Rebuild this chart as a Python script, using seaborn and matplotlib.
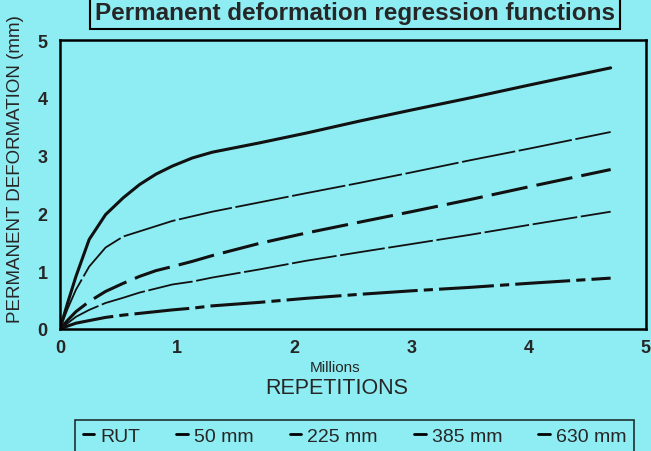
import matplotlib
matplotlib.use('Agg')
import matplotlib.pyplot as plt
import seaborn as sns
import pandas as pd
from matplotlib.lines import Line2D

# repetitions (millions) and permanent deformation (mm)
reps = [0, 0.066, 0.137, 0.25, 0.39, 0.54, 0.68, 0.82, 0.96, 1.13,
        1.3, 1.7, 2.1, 2.56, 3.0, 3.5, 4.0, 4.7]
rut = [0, 0.45, 0.91, 1.55, 1.98, 2.27, 2.5, 2.68, 2.82, 2.96,
       3.06, 3.22, 3.39, 3.6, 3.79, 4.0, 4.22, 4.52]
mm50 = [0, 0.35, 0.68, 1.08, 1.41, 1.6, 1.69, 1.78, 1.87, 1.95,
        2.03, 2.19, 2.35, 2.53, 2.71, 2.92, 3.12, 3.41]
mm225 = [0, 0.15, 0.3, 0.475, 0.65, 0.79, 0.91, 1.01, 1.08, 1.17,
         1.27, 1.48, 1.66, 1.85, 2.03, 2.24, 2.46, 2.76]
mm385 = [0, 0.1, 0.21, 0.33, 0.45, 0.54, 0.63, 0.7, 0.77, 0.82,
         0.89, 1.03, 1.18, 1.33, 1.47, 1.63, 1.8, 2.03]
mm630 = [0, 0.05, 0.1, 0.145, 0.2, 0.24, 0.27, 0.3, 0.33, 0.36,
         0.4, 0.46, 0.53, 0.6, 0.66, 0.72, 0.79, 0.88]

labels = ['RUT', '50 mm', '225 mm', '385 mm', '630 mm']
series = [rut, mm50, mm225, mm385, mm630]

bg = '#8eedf3'
sns.set_style('white')
plt.rcParams['font.family'] = ['Liberation Sans', 'DejaVu Sans']

fig = plt.figure(figsize=(6.51, 4.52), dpi=100, facecolor=bg)
ax = fig.add_axes([0.092, 0.270, 0.900, 0.639])
ax.set_facecolor(bg)

styles = [
    dict(lw=2.2, ls='-'),
    dict(lw=1.3, ls=(0, (30, 2))),
    dict(lw=2.2, ls=(0, (12, 3))),
    dict(lw=1.3, ls=(0, (25, 2))),
    dict(lw=2.2, ls=(0, (18, 2, 3, 2))),
]

for lab, vals, st in zip(labels, series, styles):
    df = pd.DataFrame({'x': reps, 'y': vals})
    sns.lineplot(data=df, x='x', y='y', ax=ax, color='#111111',
                 linewidth=st['lw'], linestyle=st['ls'])

ax.set_xlim(0, 5)
ax.set_ylim(0, 5)
ax.set_xticks(range(6))
ax.set_yticks(range(6))
ax.tick_params(direction='in', length=3, width=0.8, labelsize=13)
ax.tick_params(axis='y', pad=9)
ax.tick_params(axis='x', pad=7)
for t in ax.get_xticklabels() + ax.get_yticklabels():
    t.set_fontweight('bold')
for s in ax.spines.values():
    s.set_color('black')
    s.set_linewidth(1.8)
ax.set_xlabel('')
ax.set_ylabel('')

fig.text(0.024, 0.625, 'PERMANENT DEFORMATION (mm)', rotation=90,
         ha='center', va='center', fontsize=13.5)
fig.text(0.515, 0.185, 'Millions', ha='center', va='center', fontsize=11)
fig.text(0.518, 0.140, 'REPETITIONS', ha='center', va='center', fontsize=15.5)

fig.text(0.545, 0.996, 'Permanent deformation regression functions',
         ha='center', va='top', fontsize=17.5, fontweight='bold',
         bbox=dict(boxstyle='square,pad=0.2', fc=bg, ec='black', lw=1.5))

handles = [Line2D([0], [0], color='black', lw=2) for _ in labels]
leg = fig.legend(handles, labels, loc='upper left',
                 bbox_to_anchor=(0.115, -0.02, 0.859, 0.089), mode='expand',
                 borderaxespad=0, ncol=5, fontsize=14, handlelength=0.6,
                 handletextpad=0.3, frameon=True, fancybox=False,
                 facecolor=bg, edgecolor='black', borderpad=0.4)
leg.get_frame().set_linewidth(1.2)

fig.savefig('out.png', dpi=100, facecolor=bg)
